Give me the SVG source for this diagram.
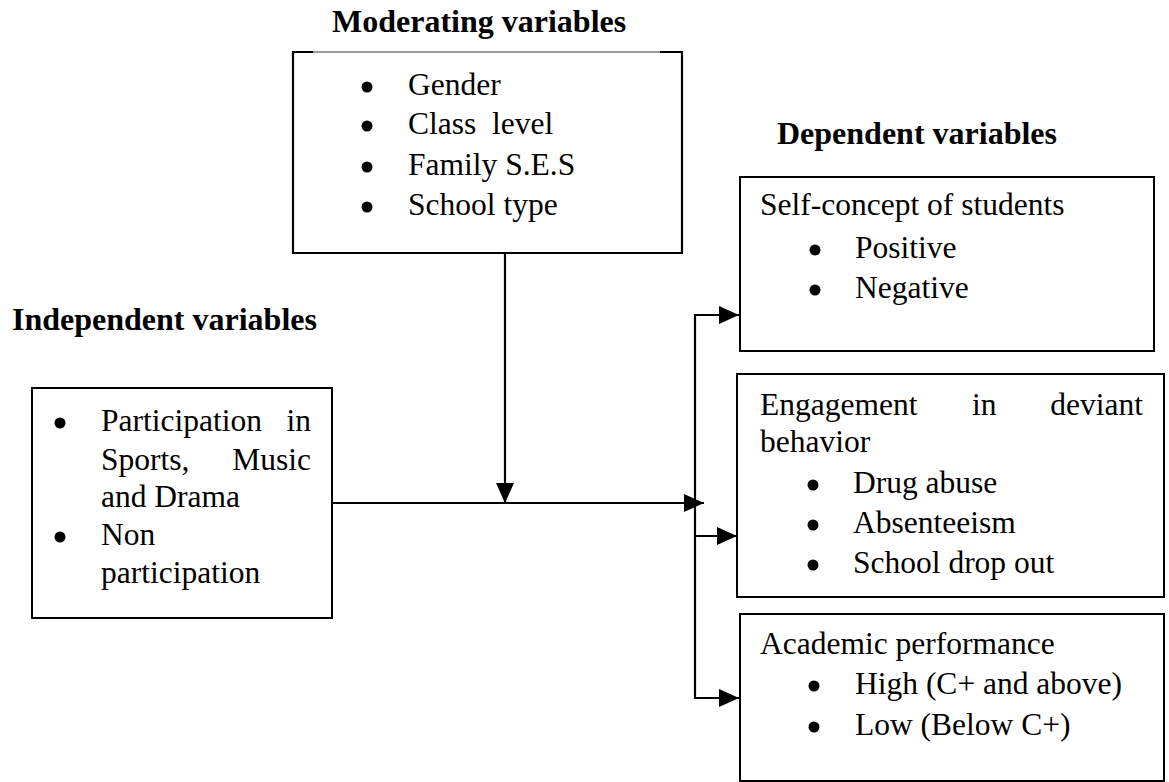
<svg xmlns="http://www.w3.org/2000/svg" width="1169" height="782" viewBox="0 0 1169 782">
<style>
.t{font-family:"Liberation Serif","Times New Roman",serif;font-size:31.5px;fill:#000;white-space:pre}
.h{font-family:"Liberation Serif","Times New Roman",serif;font-size:32px;font-weight:bold;fill:#000}
.box{fill:#fff;stroke:#000;stroke-width:2}
.ln{fill:none;stroke:#000;stroke-width:2.2}
.b{fill:#000}
</style>
<defs>
<marker id="ah" markerUnits="userSpaceOnUse" markerWidth="22" markerHeight="18" refX="20" refY="9" orient="auto" overflow="visible">
<path d="M0,0 L20,9 L0,18 z" fill="#000"/>
</marker>
</defs>
<rect width="1169" height="782" fill="#fff"/>

<g id="title-moderating"><text class="h" x="332" y="32">Moderating variables</text></g>
<g id="title-independent"><text class="h" x="12" y="330">Independent variables</text></g>
<g id="title-dependent"><text class="h" x="777" y="144">Dependent variables</text></g>

<g id="moderating">
<path d="M313,52 L660,52" stroke="#777" stroke-width="1.5" fill="none"/>
<path d="M313,52 L293,52 L293,253 L682,253 L682,52 L660,52" class="ln" stroke-width="2"/>
<circle class="b" cx="367" cy="87" r="5.5"/><text class="t" x="408" y="95">Gender</text>
<circle class="b" cx="367" cy="126" r="5.5"/><text class="t" x="408" y="134">Class  level</text>
<circle class="b" cx="367" cy="167" r="5.5"/><text class="t" x="408" y="175">Family S.E.S</text>
<circle class="b" cx="367" cy="207" r="5.5"/><text class="t" x="408" y="215">School type</text>
</g>

<g id="independent">
<rect class="box" x="32" y="388" width="300" height="230"/>
<circle class="b" cx="60" cy="423" r="5.5"/>
<text class="t" x="101" y="431">Participation</text><text class="t" x="311" y="431" text-anchor="end">in</text>
<text class="t" x="101" y="470">Sports,</text><text class="t" x="311" y="470" text-anchor="end">Music</text>
<text class="t" x="101" y="507">and Drama</text>
<circle class="b" cx="60" cy="537" r="5.5"/>
<text class="t" x="101" y="545">Non</text>
<text class="t" x="101" y="583">participation</text>
</g>

<g id="self-concept">
<rect class="box" x="740" y="177" width="414" height="174"/>
<text class="t" x="760" y="215">Self-concept of students</text>
<circle class="b" cx="815" cy="250" r="5.5"/><text class="t" x="855" y="258">Positive</text>
<circle class="b" cx="815" cy="290" r="5.5"/><text class="t" x="855" y="298">Negative</text>
</g>

<g id="deviant">
<rect class="box" x="737" y="374" width="427" height="223"/>
<text class="t" x="760" y="415">Engagement</text><text class="t" x="972" y="415">in</text><text class="t" x="1143" y="415" text-anchor="end">deviant</text>
<text class="t" x="760" y="452">behavior</text>
<circle class="b" cx="813" cy="485" r="5.5"/><text class="t" x="853" y="493">Drug abuse</text>
<circle class="b" cx="813" cy="525" r="5.5"/><text class="t" x="853" y="533">Absenteeism</text>
<circle class="b" cx="813" cy="565" r="5.5"/><text class="t" x="853" y="573">School drop out</text>
</g>

<g id="academic">
<rect class="box" x="740" y="614" width="424" height="167"/>
<text class="t" x="760" y="654">Academic performance</text>
<circle class="b" cx="814" cy="686" r="5.5"/><text class="t" x="855" y="694">High (C+ and above)</text>
<circle class="b" cx="814" cy="727" r="5.5"/><text class="t" x="855" y="735">Low (Below C+)</text>
</g>

<g id="connectors">
<line class="ln" x1="505" y1="253" x2="505" y2="503" marker-end="url(#ah)"/>
<line class="ln" x1="332" y1="503" x2="704" y2="503" marker-end="url(#ah)"/>
<line class="ln" x1="695" y1="314" x2="695" y2="699"/>
<line class="ln" x1="694" y1="315" x2="739" y2="315" marker-end="url(#ah)"/>
<line class="ln" x1="695" y1="536" x2="737" y2="536" marker-end="url(#ah)"/>
<line class="ln" x1="694" y1="698" x2="739" y2="698" marker-end="url(#ah)"/>
</g>
</svg>
